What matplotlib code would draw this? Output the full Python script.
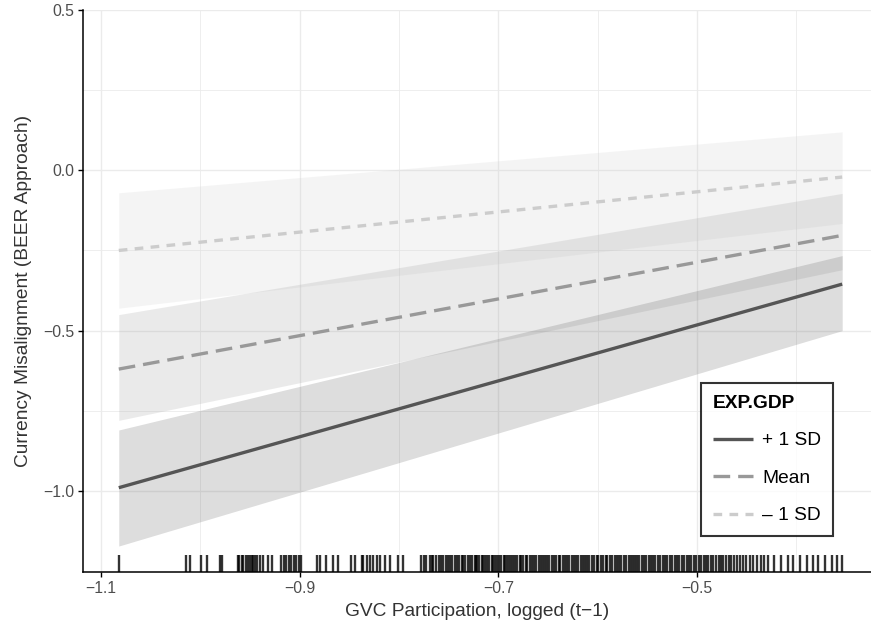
import numpy as np
import matplotlib
matplotlib.use("Agg")
import matplotlib.pyplot as plt

plt.rcParams['font.family'] = ['Liberation Sans', 'DejaVu Sans']

# end points of the fitted lines (GVC participation, logged)
x_ends = [-1.082, -0.354]

# EXP.GDP groups: fitted line and ribbon (low, high) at both ends
groups = ["+ 1 SD", "Mean", "\u2013 1 SD"]
fit_plus = [-0.990, -0.355]
lo_plus = [-1.172, -0.500]
hi_plus = [-0.810, -0.266]
fit_mean = [-0.620, -0.203]
lo_mean = [-0.780, -0.310]
hi_mean = [-0.450, -0.072]
fit_minus = [-0.250, -0.021]
lo_minus = [-0.430, -0.166]
hi_minus = [-0.070, 0.120]

# observed x values (rug)
rug_x = [-1.082, -1.014, -1.010, -0.999, -0.993, -0.980, -0.978, -0.962, -0.961,
         -0.958, -0.957, -0.954, -0.952, -0.950, -0.948, -0.947, -0.945, -0.943,
         -0.940, -0.937, -0.932, -0.928, -0.919, -0.916, -0.914, -0.911, -0.909,
         -0.906, -0.904, -0.901, -0.899, -0.883, -0.879, -0.873, -0.866, -0.861,
         -0.848, -0.844, -0.837, -0.836, -0.832, -0.829, -0.826, -0.822, -0.819,
         -0.814, -0.809, -0.801, -0.796,
         -0.778, -0.775, -0.773, -0.769, -0.767, -0.766, -0.763, -0.760, -0.758,
         -0.756, -0.753, -0.751, -0.749, -0.747, -0.744, -0.742, -0.740, -0.737,
         -0.736, -0.734, -0.731, -0.729, -0.727, -0.724, -0.723, -0.721, -0.719,
         -0.716, -0.715, -0.713, -0.711, -0.709, -0.706, -0.705, -0.703, -0.701,
         -0.699, -0.697, -0.694, -0.693, -0.691, -0.689, -0.687, -0.685, -0.683,
         -0.681, -0.678, -0.677, -0.675, -0.672, -0.671, -0.668, -0.666, -0.664,
         -0.662, -0.659, -0.657, -0.655, -0.653, -0.651, -0.649, -0.646, -0.644,
         -0.642, -0.639, -0.638, -0.635, -0.633, -0.631, -0.629, -0.626, -0.624,
         -0.622, -0.620, -0.617, -0.615, -0.613, -0.611, -0.609, -0.606, -0.604,
         -0.601, -0.600, -0.597, -0.595, -0.592, -0.591, -0.588, -0.586, -0.583,
         -0.581, -0.579, -0.577, -0.574, -0.572, -0.569, -0.567, -0.565, -0.563,
         -0.560, -0.558, -0.555, -0.553, -0.551, -0.548, -0.546, -0.544, -0.542,
         -0.539, -0.537, -0.534, -0.532, -0.530, -0.527, -0.525, -0.522, -0.520,
         -0.518, -0.515, -0.513, -0.510, -0.508, -0.506, -0.503, -0.501, -0.498,
         -0.496, -0.493, -0.491, -0.489, -0.486, -0.484, -0.481, -0.478, -0.476,
         -0.474, -0.471, -0.468, -0.466, -0.463, -0.460, -0.457, -0.454, -0.451,
         -0.447, -0.444, -0.440, -0.436, -0.433, -0.429,
         -0.423, -0.416, -0.409, -0.403, -0.396, -0.389, -0.383, -0.378, -0.371,
         -0.364, -0.359, -0.354]

x_ticks = [-1.1, -0.9, -0.7, -0.5]
x_labels = ["\u22121.1", "\u22120.9", "\u22120.7", "\u22120.5"]
y_ticks = [0.5, 0.0, -0.5, -1.0]
y_labels = ["0.5", "0.0", "\u22120.5", "\u22121.0"]

fig = plt.figure(figsize=(8.71, 6.27), dpi=100)
ax = fig.add_axes([0.0953, 0.0877, 0.9047, 0.8963])

line_cols = ["#555555", "#999999", "#cccccc"]
styles = ["-", (0, (5.0, 2.4)), (0, (2.6, 2.2))]
fits = [fit_plus, fit_mean, fit_minus]
los = [lo_plus, lo_mean, lo_minus]
his = [hi_plus, hi_mean, hi_minus]

# ribbons first, then lines on top
for i in [2, 1, 0]:
    ax.fill_between(x_ends, los[i], his[i], color=line_cols[i], alpha=0.2,
                    linewidth=0, zorder=2)
for i in range(3):
    ax.plot(x_ends, fits[i], color=line_cols[i], linestyle=styles[i],
            linewidth=2.4, label=groups[i], zorder=3, solid_capstyle='butt')

ax.vlines(rug_x, 0, 0.03, transform=ax.get_xaxis_transform(),
          color="black", alpha=0.8, linewidth=1.7, zorder=4)

ax.set_xlim(-1.118, -0.325)
ax.set_ylim(-1.253, 0.5)

ax.set_xticks(x_ticks)
ax.set_xticklabels(x_labels)
ax.set_yticks(y_ticks)
ax.set_yticklabels(y_labels)
ax.set_xticks([-1.0, -0.8, -0.6, -0.4], minor=True)
ax.set_yticks([0.25, -0.25, -0.75], minor=True)
ax.tick_params(which='minor', length=0)
ax.tick_params(which='major', length=3.5, width=1.0, color='black',
               labelsize=11.3, labelcolor='#4d4d4d', pad=3)

ax.grid(True, which='major', color='#ebebeb', linewidth=1.0, zorder=0)
ax.grid(True, which='minor', color='#ebebeb', linewidth=0.6, zorder=0)
ax.set_axisbelow(True)

for s in ['top', 'right']:
    ax.spines[s].set_visible(False)
for s in ['left', 'bottom']:
    ax.spines[s].set_linewidth(1.1)
    ax.spines[s].set_color('black')

ax.set_xlabel("GVC Participation, logged (t\u22121)", fontsize=13.8,
              color='#333333', labelpad=5)
ax.set_ylabel("Currency Misalignment (BEER Approach)", fontsize=13.8,
              color='#333333', labelpad=8)

leg = ax.legend(title="EXP.GDP", loc='center', bbox_to_anchor=(0.868, 0.200),
                fontsize=13.8, title_fontproperties={'weight': 'bold', 'size': 13.8},
                frameon=True, fancybox=False, edgecolor='black',
                handlelength=2.1, labelspacing=1.05, handletextpad=0.5,
                borderpad=0.6, alignment='left')
leg.get_frame().set_linewidth(1.5)

fig.savefig("out.png", dpi=100)
